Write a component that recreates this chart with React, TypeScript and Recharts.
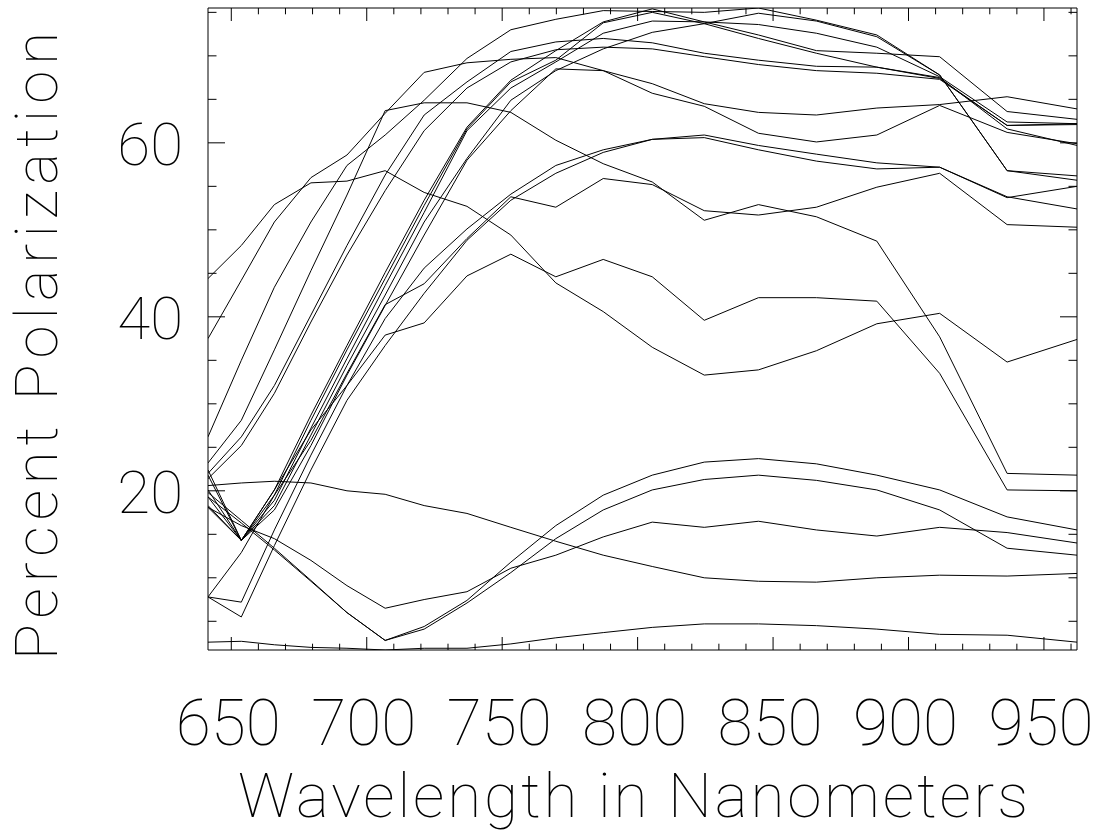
import React from 'react';
import { LineChart, Line, XAxis, YAxis } from 'recharts';

// Wavelength samples (nm)
const wavelengths = [641.4, 653.7, 665.9, 679.4, 692.7, 706.8, 721.2, 737.0, 753.2, 769.8, 787.3, 805.4, 824.6, 844.6, 866.0, 888.3, 911.5, 936.4, 962.2];

// Percent polarization series
const s01 = [44.4, 48.2, 52.9, 55.4, 55.6, 56.8, 54.3, 52.7, 49.4, 43.9, 40.6, 36.5, 33.3, 33.9, 36.1, 39.2, 40.4, 34.8, 37.4];
const s02 = [37.5, 44.2, 50.9, 56.0, 58.6, 63.4, 68.1, 69.2, 69.6, 69.8, 68.3, 66.8, 64.5, 63.5, 63.2, 64.0, 64.4, 65.3, 63.9];
const s03 = [26.2, 35.0, 43.4, 50.9, 57.4, 60.9, 64.9, 69.7, 73.0, 74.2, 75.2, 75.1, 75.0, 75.5, 74.1, 72.4, 67.8, 56.8, 56.2];
const s04 = [23.2, 28.1, 36.2, 45.3, 54.0, 63.7, 64.6, 64.6, 63.5, 60.3, 57.6, 55.5, 51.1, 52.9, 51.5, 48.7, 37.7, 22.0, 21.8];
const s05 = [22.0, 26.2, 32.1, 40.2, 48.2, 56.3, 63.2, 67.0, 70.5, 71.6, 72.0, 71.5, 70.3, 69.5, 68.8, 68.7, 67.5, 61.6, 59.7];
const s06 = [21.4, 25.2, 31.2, 39.4, 47.1, 54.5, 61.4, 66.3, 69.3, 70.7, 71.0, 70.8, 69.9, 69.0, 68.3, 68.0, 67.3, 62.0, 62.2];
const s07 = [22.4, 14.3, 20.1, 28.7, 36.7, 45.1, 53.4, 61.8, 67.2, 70.6, 73.9, 75.4, 73.9, 72.4, 70.6, 70.3, 69.9, 63.6, 62.7];
const s08 = [21.8, 14.3, 19.5, 28.1, 36.2, 44.4, 52.8, 61.6, 67.0, 69.5, 73.8, 75.0, 73.7, 72.0, 70.3, 68.7, 67.4, 62.0, 62.1];
const s09 = [20.1, 14.3, 18.9, 27.2, 35.2, 43.6, 52.0, 61.4, 66.3, 69.3, 72.6, 74.0, 73.9, 73.6, 72.6, 71.0, 67.6, 62.4, 62.2];
const s10 = [19.3, 14.3, 18.3, 26.4, 34.4, 42.5, 50.9, 58.2, 64.9, 68.3, 70.8, 72.7, 73.7, 74.9, 74.0, 72.2, 67.8, 56.8, 55.7];
const s11 = [18.3, 14.3, 17.8, 25.2, 33.3, 41.3, 49.4, 58.0, 63.7, 68.5, 68.3, 65.7, 64.2, 61.1, 60.1, 60.9, 64.3, 61.2, 59.9];
const s12 = [7.8, 7.2, 15.5, 24.1, 32.1, 39.8, 45.6, 50.1, 54.1, 57.4, 59.2, 60.4, 60.9, 59.7, 58.7, 57.7, 57.2, 53.8, 52.4];
const s13 = [7.8, 5.5, 13.7, 22.4, 30.4, 36.7, 42.7, 48.8, 53.4, 56.5, 58.9, 60.4, 60.6, 59.2, 57.9, 57.0, 57.2, 53.7, 55.0];
const s14 = [7.8, 12.9, 19.5, 25.8, 33.5, 41.4, 43.8, 49.0, 53.8, 52.6, 55.9, 55.2, 52.2, 51.7, 52.6, 54.9, 56.5, 50.6, 50.3];
const s15 = [18.1, 14.3, 20.1, 27.0, 32.1, 37.9, 39.3, 44.7, 47.2, 44.6, 46.6, 44.6, 39.6, 42.2, 42.2, 41.8, 33.5, 20.1, 20.0];
const s16 = [19.8, 16.6, 13.4, 9.7, 6.0, 2.8, 4.4, 7.4, 11.8, 16.0, 19.5, 21.8, 23.3, 23.7, 23.1, 21.8, 20.1, 17.0, 15.5];
const s17 = [19.3, 16.3, 13.2, 9.6, 6.0, 2.8, 4.1, 7.1, 10.6, 14.5, 17.8, 20.1, 21.3, 21.8, 21.2, 20.1, 17.8, 13.4, 12.6];
const s18 = [18.1, 16.0, 14.5, 12.0, 9.1, 6.5, 7.5, 8.4, 11.1, 12.6, 14.7, 16.4, 15.8, 16.5, 15.5, 14.8, 15.8, 15.2, 14.0];
const s19 = [20.6, 20.9, 21.1, 20.9, 20.0, 19.6, 18.3, 17.4, 15.8, 14.2, 12.6, 11.3, 10.0, 9.6, 9.5, 10.0, 10.3, 10.2, 10.5];
const s20 = [2.6, 2.7, 2.3, 2.0, 1.9, 1.7, 1.9, 1.9, 2.4, 3.1, 3.7, 4.3, 4.7, 4.7, 4.5, 4.1, 3.5, 3.4, 2.6];

// Axis ticks
const xTicks = [650, 660, 670, 680, 690, 700, 710, 720, 730, 740, 750, 760, 770, 780, 790, 800, 810, 820, 830, 840, 850, 860, 870, 880, 890, 900, 910, 920, 930, 940, 950, 960];
const xLabelTicks = [650, 700, 750, 800, 850, 900, 950];
const yTicks = [5, 10, 15, 20, 25, 30, 35, 40, 45, 50, 55, 60, 65, 70, 75];
const yLabelTicks = [20, 40, 60];
const xDomain = [641.4, 962.2];
const yDomain = [1.7, 75.5];

const series = [s01, s02, s03, s04, s05, s06, s07, s08, s09, s10, s11, s12, s13, s14, s15, s16, s17, s18, s19, s20];
const data = wavelengths.map((w, i) => {
  const row: Record<string, number> = { nm: w };
  series.forEach((s, k) => { row['s' + k] = s[i]; });
  return row;
});

const W = 1103;
const H = 836;
const PL = 208, PR = 1077, PT = 8, PB = 650;
const FONT = 'Roboto, "Noto Sans", sans-serif';
const INK = '#000';

const BottomTick = (props: any) => {
  const { x, payload } = props;
  const v = payload.value;
  const major = xLabelTicks.includes(v);
  return (
    <g>
      <line x1={x} x2={x} y1={PB} y2={PB - (major ? 13 : 6.3)} stroke={INK} strokeWidth={1} />
      {major && (
        <text x={x - 3} y={745} textAnchor="middle" fontFamily={FONT} fontWeight={100} fontSize={64} fill={INK}>
          {v}
        </text>
      )}
    </g>
  );
};

const TopTick = (props: any) => {
  const { x, payload } = props;
  const major = xLabelTicks.includes(payload.value);
  return <line x1={x} x2={x} y1={PT} y2={PT + (major ? 13 : 6.3)} stroke={INK} strokeWidth={1} />;
};

const LeftTick = (props: any) => {
  const { y, payload } = props;
  const v = payload.value;
  const major = yLabelTicks.includes(v);
  return (
    <g>
      <line x1={PL} x2={PL + (major ? 17 : 8.5)} y1={y} y2={y} stroke={INK} strokeWidth={1} />
      {major && (
        <text x={183} y={y + 22} textAnchor="end" fontFamily={FONT} fontWeight={100} fontSize={60} fill={INK}>
          {v}
        </text>
      )}
    </g>
  );
};

const RightTick = (props: any) => {
  const { y, payload } = props;
  const major = yLabelTicks.includes(payload.value);
  return <line x1={PR} x2={PR - (major ? 17 : 8.5)} y1={y} y2={y} stroke={INK} strokeWidth={1} />;
};

const XTitle = () => (
  <text x={633} y={817} textAnchor="middle" textLength={790} lengthAdjust="spacing" fontFamily={FONT} fontWeight={100} fontSize={62} fill={INK}>
    Wavelength in Nanometers
  </text>
);

const YTitle = () => (
  <text x={-346} y={57} transform="rotate(-90)" textAnchor="middle" textLength={628} lengthAdjust="spacing" fontFamily={FONT} fontWeight={100} fontSize={60} fill={INK}>
    Percent Polarization
  </text>
);

export default function App() {
  return (
    <div style={{ position: 'absolute', left: 0, top: 0, width: W, height: H, background: '#fff' }}>
      <LineChart width={W} height={H} data={data} margin={{ top: PT - 1, right: W - PR - 1, bottom: H - PB - 1, left: 0 }}>
        <XAxis
          xAxisId="b"
          dataKey="nm"
          type="number"
          orientation="bottom"
          domain={xDomain}
          allowDataOverflow
          ticks={xTicks}
          interval={0}
          height={1}
          tickLine={false}
          axisLine={{ stroke: INK, strokeWidth: 1 }}
          tick={<BottomTick />}
          label={<XTitle />}
        />
        <XAxis
          xAxisId="t"
          dataKey="nm"
          type="number"
          orientation="top"
          domain={xDomain}
          allowDataOverflow
          ticks={xTicks}
          interval={0}
          height={1}
          tickLine={false}
          axisLine={{ stroke: INK, strokeWidth: 1 }}
          tick={<TopTick />}
        />
        <YAxis
          yAxisId="l"
          type="number"
          orientation="left"
          domain={yDomain}
          allowDataOverflow
          ticks={yTicks}
          interval={0}
          width={PL}
          tickLine={false}
          axisLine={{ stroke: INK, strokeWidth: 1 }}
          tick={<LeftTick />}
          label={<YTitle />}
        />
        <YAxis
          yAxisId="r"
          type="number"
          orientation="right"
          domain={yDomain}
          allowDataOverflow
          ticks={yTicks}
          interval={0}
          width={1}
          tickLine={false}
          axisLine={{ stroke: INK, strokeWidth: 1 }}
          tick={<RightTick />}
        />
        {series.map((_, k) => (
          <Line
            key={k}
            xAxisId="b"
            yAxisId="l"
            type="linear"
            dataKey={'s' + k}
            stroke={INK}
            strokeWidth={1}
            dot={false}
            activeDot={false}
            isAnimationActive={false}
          />
        ))}
      </LineChart>
    </div>
  );
}
